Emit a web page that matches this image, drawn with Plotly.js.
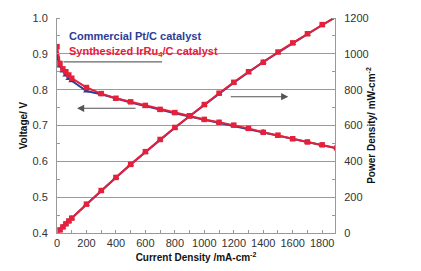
<!DOCTYPE html>
<html><head><meta charset="utf-8">
<script src="https://cdn.plot.ly/plotly-3.0.1.min.js"></script>
<style>html,body{margin:0;padding:0;background:#fff}#c{width:421px;height:271px}</style>
</head><body><div id="c"></div>
<script>
// Current density (mA/cm2)
const current = [0,20,40,60,80,100,200,300,400,500,600,700,800,900,1000,1100,1200,1300,1400,1500,1600,1700,1800,1900];
// Synthesized IrRu4/C
const irruVoltage = [0.920,0.873,0.858,0.850,0.841,0.832,0.806,0.789,0.776,0.766,0.756,0.745,0.736,0.727,0.717,0.709,0.701,0.692,0.681,0.673,0.663,0.654,0.646,0.637];
const irruPower = [0,17,34,51,67,83,161,237,310,383,454,522,589,654,717,780,841,900,953,1010,1061,1112,1163,1210];
// Commercial Pt/C
const ptVoltage = [0.893,0.866,0.852,0.841,0.831,0.825,0.796,0.787,0.775,0.764,0.754,0.743,0.734,0.725,0.716,0.708,0.699,0.690,0.682,0.671,0.662,0.653,0.645,0.636];
const ptPower = [0,17,34,50,66,82,159,236,310,382,452,520,587,652,716,779,839,897,955,1007,1059,1110,1161,1208];

const red = '#e5203a', blue = '#2a3e96';
const tf = {family:'Liberation Sans, Arial, sans-serif', size:11, color:'#333'};
const titleFont = {family:'Liberation Sans, Arial, sans-serif', size:10, color:'#111', weight:'bold'};

const traces = [
  {x:current, y:ptVoltage, yaxis:'y', mode:'lines+markers', line:{color:blue,width:2}, marker:{symbol:'triangle-up',size:6,color:blue}, hoverinfo:'skip'},
  {x:current, y:ptPower, yaxis:'y2', mode:'lines+markers', line:{color:blue,width:2}, marker:{symbol:'triangle-up',size:6,color:blue}, hoverinfo:'skip'},
  {x:current, y:irruVoltage, yaxis:'y', mode:'lines+markers', line:{color:red,width:2}, marker:{symbol:'square',size:5.5,color:red}, hoverinfo:'skip'},
  {x:current, y:irruPower, yaxis:'y2', mode:'lines+markers', line:{color:red,width:2}, marker:{symbol:'square',size:5.5,color:red}, hoverinfo:'skip'}
];

const layout = {
  width:421, height:271,
  margin:{l:57, r:86, t:18, b:38},
  paper_bgcolor:'#fff', plot_bgcolor:'#fff',
  showlegend:false,
  font:tf,
  xaxis:{range:[0,1887], tickvals:[0,200,400,600,800,1000,1200,1400,1600,1800], showgrid:false, zeroline:false,
    showline:true, linecolor:'#999', linewidth:1, ticks:'', tickfont:tf,
    minor:{dtick:100, ticks:'inside', ticklen:3, tickcolor:'#999'},
    title:{text:'Current Density /mA-cm<sup>-2</sup>', font:titleFont, standoff:5}},
  yaxis:{range:[0.4,1.0], tickvals:[0.4,0.5,0.6,0.7,0.8,0.9,1.0], ticktext:['0.4','0.5','0.6','0.7','0.8','0.9','1.0'],
    showgrid:true, gridcolor:'#9a9a9a', gridwidth:1, zeroline:false,
    showline:true, linecolor:'#999', linewidth:1, ticks:'', tickfont:tf, ticklabelstandoff:6,
    minor:{dtick:0.05, ticks:'inside', ticklen:3, tickcolor:'#999', showgrid:false},
    title:{text:'Voltage/ V', font:titleFont, standoff:3}},
  yaxis2:{range:[0,1200], overlaying:'y', side:'right', tickvals:[0,200,400,600,800,1000,1200],
    showgrid:false, zeroline:false, showline:true, linecolor:'#999', linewidth:1, ticks:'', tickfont:tf, ticklabelstandoff:6,
    minor:{dtick:100, ticks:'inside', ticklen:3, tickcolor:'#999'},
    title:{text:'Power Density/ mW-cm<sup>-2</sup>', font:titleFont, standoff:0}},
  shapes:[
    {type:'rect', xref:'paper', yref:'paper', x0:0.002, x1:0.655, y0:0.80, y1:0.95, fillcolor:'#fff', line:{width:0}, layer:'between'},
    {type:'line', xref:'paper', yref:'paper', x0:0.023, x1:0.378, y0:0.796, y1:0.796, line:{color:'#666', width:1.3}, layer:'between'}
  ],
  annotations:[
    {xref:'paper', yref:'paper', x:0.037, y:0.915, xanchor:'left', yanchor:'middle', showarrow:false,
      text:'Commercial Pt/C catalyst', font:{family:'Liberation Sans, Arial, sans-serif', size:11, color:blue, weight:'bold'}},
    {xref:'paper', yref:'paper', x:0.037, y:0.842, xanchor:'left', yanchor:'middle', showarrow:false,
      text:'Synthesized IrRu<sub>4</sub>/C catalyst', font:{family:'Liberation Sans, Arial, sans-serif', size:11, color:red, weight:'bold'}},
    {xref:'paper', yref:'paper', x:0.072, y:0.580, ax:60, ay:0, text:'', showarrow:true, arrowhead:2, arrowsize:1.3, arrowwidth:1.1, arrowcolor:'#555'},
    {xref:'paper', yref:'paper', x:0.832, y:0.634, ax:-59, ay:0, text:'', showarrow:true, arrowhead:2, arrowsize:1.3, arrowwidth:1.1, arrowcolor:'#555'}
  ]
};

Plotly.newPlot('c', traces, layout, {staticPlot:true, displayModeBar:false});
</script>
</body></html>
